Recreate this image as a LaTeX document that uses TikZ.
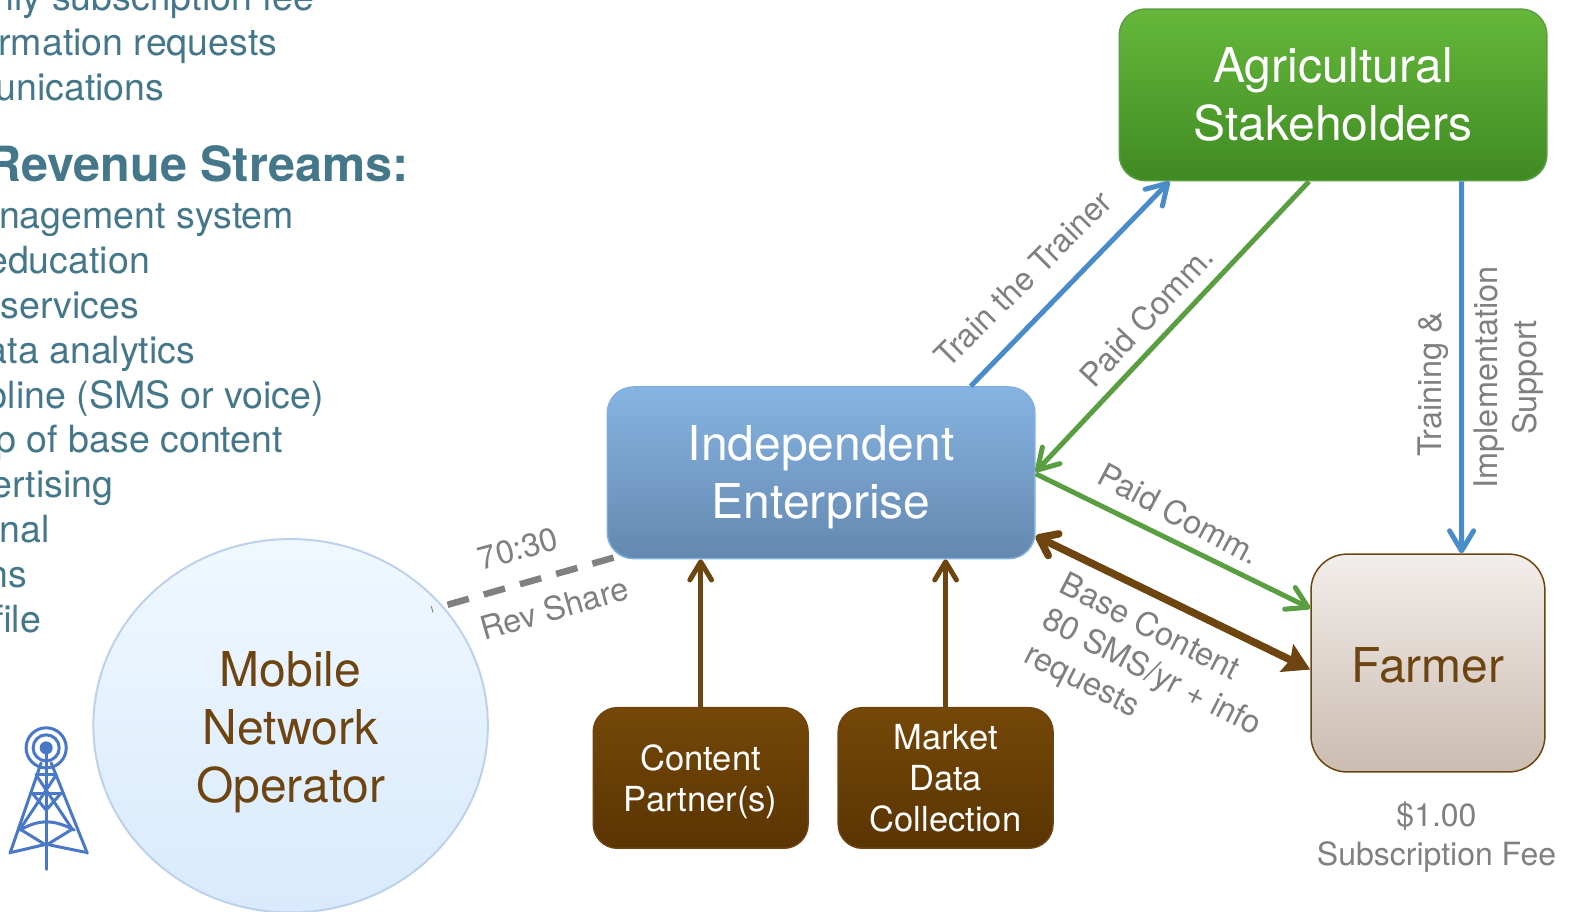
\documentclass[tikz,border=0pt]{standalone}
\usepackage{fontspec}
\setmainfont{TeX Gyre Heros}
\usetikzlibrary{shapes.geometric,arrows.meta}
\definecolor{tealtext}{HTML}{45778A}
\definecolor{browntext}{HTML}{6E4510}
\definecolor{graytext}{HTML}{808080}
\definecolor{greenline}{HTML}{5A9E42}
\definecolor{blueline}{HTML}{4A8BC9}
\definecolor{brownline}{HTML}{6E4510}
\definecolor{towerblue}{HTML}{4A78C8}
\definecolor{brown1}{HTML}{754808}
\definecolor{brown2}{HTML}{5A3403}
\definecolor{agritop}{HTML}{66B83C}
\definecolor{agribot}{HTML}{3F8A22}
\definecolor{indeptop}{HTML}{86B4E2}
\definecolor{indepbot}{HTML}{6488AF}
\definecolor{indepline}{HTML}{7FB0E0}
\definecolor{farmtop}{HTML}{F2EEEB}
\definecolor{farmbot}{HTML}{CBBCB1}
\definecolor{mnotop}{HTML}{F0F8FF}
\definecolor{mnobot}{HTML}{D8EAFC}
\definecolor{mnoline}{HTML}{BDD2EA}
\tikzset{
  boxnode/.style={rounded corners=#1,draw,line width=1.5pt,inner sep=0pt,align=center},
  bignode/.style={boxnode=26bp,minimum width=426bp,minimum height=171bp,text=white,font=\fontsize{48}{58}\selectfont},
  srcnode/.style={boxnode=24bp,minimum width=214bp,minimum height=140bp,draw=brownline,text=white,
    top color=brown1,bottom color=brown2,font=\fontsize{34.5}{41}\selectfont},
  listtext/.style={anchor=base east,inner sep=0pt,text=tealtext,font=\fontsize{37.5}{37.5}\selectfont},
  linktext/.style={inner sep=0pt,align=center,text=graytext,font=\fontsize{32.5}{39}\selectfont},
  barb/.style={-{Straight Barb[length=#1,width=#1*1.2,round]}},
  towerline/.style={draw=towerblue,line width=3pt,line cap=round},
}
\begin{document}
\begin{tikzpicture}[x=1bp,y=-1bp]
        \useasboundingbox (0,0) rectangle (1568,908.5);
        \clip (0,0) rectangle (1568,908.5);
        %Left text column
        \node[listtext] (ln1) at (313,10) {nly subscription fee};
        \node[listtext] (ln2) at (276.5,55.5) {rmation requests};
        \node[listtext] (ln3) at (164,100) {unications};
        \node[listtext,font=\fontsize{48.5}{48.5}\selectfont\bfseries] (head) at (407,181) {Revenue Streams:};
        \node[listtext] (ln4) at (293,228) {nagement system};
        \node[listtext] (ln5) at (149.5,272.5) {education};
        \node[listtext] (ln6) at (139,317.5) {services};
        \node[listtext] (ln7) at (194.5,362) {ata analytics};
        \node[listtext] (ln8) at (323,407) {pline (SMS or voice)};
        \node[listtext] (ln9) at (282,451) {p of base content};
        \node[listtext] (ln10) at (113,496) {ertising};
        \node[listtext] (ln11) at (50,540) {nal};
        \node[listtext] (ln12) at (27,585) {ns};
        \node[listtext] (ln13) at (41,630) {file};
        %Main boxes
        \node[bignode,draw=greenline,top color=agritop,bottom color=agribot] (agri) at (1328,94.5) {Agricultural\\Stakeholders};
        \node[bignode,draw=indepline,top color=indeptop,bottom color=indepbot] (indep) at (818,471) {\rule{0pt}{44pt}Independent\\Enterprise};
        \node[boxnode=36bp,minimum width=233bp,minimum height=217bp,draw=brownline,top color=farmtop,bottom color=farmbot,
          text=browntext,font=\fontsize{48}{58}\selectfont] (farmer) at (1422.5,660.5) {\rule{0pt}{40pt}Farmer};
        \node[srcnode] (content) at (698,775) {\rule{0pt}{33pt}Content\\Partner(s)};
        \node[srcnode] (market) at (942,775) {Market\\Data\\Collection};
        \node[ellipse,draw=mnoline,line width=2pt,minimum width=393bp,minimum height=372bp,inner sep=0pt,
          top color=mnotop,bottom color=mnobot,align=center,
          text=browntext,font=\fontsize{48}{58}\selectfont] (mno) at (289.5,723) {\rule{0pt}{48pt}Mobile\\Network\\Operator};
        \node[linktext,font=\fontsize{32}{39}\selectfont] (fee) at (1431,833.5) {\$1.00\\Subscription Fee};
        %Connectors
        \draw[barb=20bp,draw=blueline,line width=5pt] ([xshift=149bp]indep.north) -- ([xshift=-163bp]agri.south);
        \draw[barb=20bp,draw=greenline,line width=5pt] ([xshift=-24bp]agri.south) -- ([yshift=1bp]indep.east);
        \draw[barb=20bp,draw=blueline,line width=5pt] ([xshift=128bp]agri.south) -- ([xshift=33.5bp]farmer.north);
        \draw[barb=20bp,draw=greenline,line width=5pt] ([yshift=-1bp]indep.east) -- ([yshift=54.5bp]farmer.west);
        \draw[{Straight Barb[length=16bp,width=24bp,round]}-{Stealth[length=26bp,width=30bp,inset=4bp]},draw=brownline,line width=7.5pt] ([yshift=-63bp]indep.east) -- ([yshift=-6.5bp]farmer.west);
        \draw[barb=18bp,draw=brownline,line width=5pt] (content.north) -- (content.north |- indep.south);
        \draw[barb=18bp,draw=brownline,line width=5pt] (market.north) -- (market.north |- indep.south);
        \coordinate (revend) at (430,607);
        \draw[draw=graytext,line width=6.5pt,dash pattern=on 22bp off 15.5bp] ([xshift=7bp,yshift=-84.5bp]indep.west) -- (revend);
        %Connector labels
        \node[linktext,rotate=15] (lab1) at (516,546.5) {70:30};
        \node[linktext,rotate=16] (lab2) at (552,606) {Rev Share};
        \node[linktext,rotate=45] (lab3) at (1019,278) {Train the Trainer};
        \node[linktext,rotate=47] (lab4) at (1142,315) {Paid Comm.};
        \node[linktext,rotate=90] (lab5) at (1428,383) {Training \&};
        \node[linktext,rotate=90] (lab6) at (1503,376) {Implementation\\Support};
        \node[linktext,rotate=-28] (lab7) at (1175,512) {Paid Comm.};
        \node[linktext,rotate=-27,align=left] (lab8) at (1147,671) {Base Content\\80 SMS/yr + info\\requests};
        %Tower
        \draw[towerline] (46,745) circle (20);
        \draw[towerline] (46,745) circle (13);
        \fill[towerblue] (46,745) circle (6.5);
        \draw[towerline] (46,750) -- (46,866);
        \draw[towerline] (41,760) -- (10,850);
        \draw[towerline] (51,760) -- (87,850);
        \draw[towerline] (36,772) -- (56,772);
        \draw[towerline] (32,790) -- (61,790);
        \draw[towerline] (32,790) -- (46,807) -- (61,790);
        \draw[towerline] (36,772) -- (72,826);
        \draw[towerline] (56,772) -- (20,826);
        \draw[towerline] (20,827) .. controls (38,816) and (54,816) .. (74,827);
        \draw[towerline] (20,826) -- (46,842) -- (72,826);
        \draw[towerline] (12,849) -- (46,841) -- (85,849);
\end{tikzpicture}
\end{document}
